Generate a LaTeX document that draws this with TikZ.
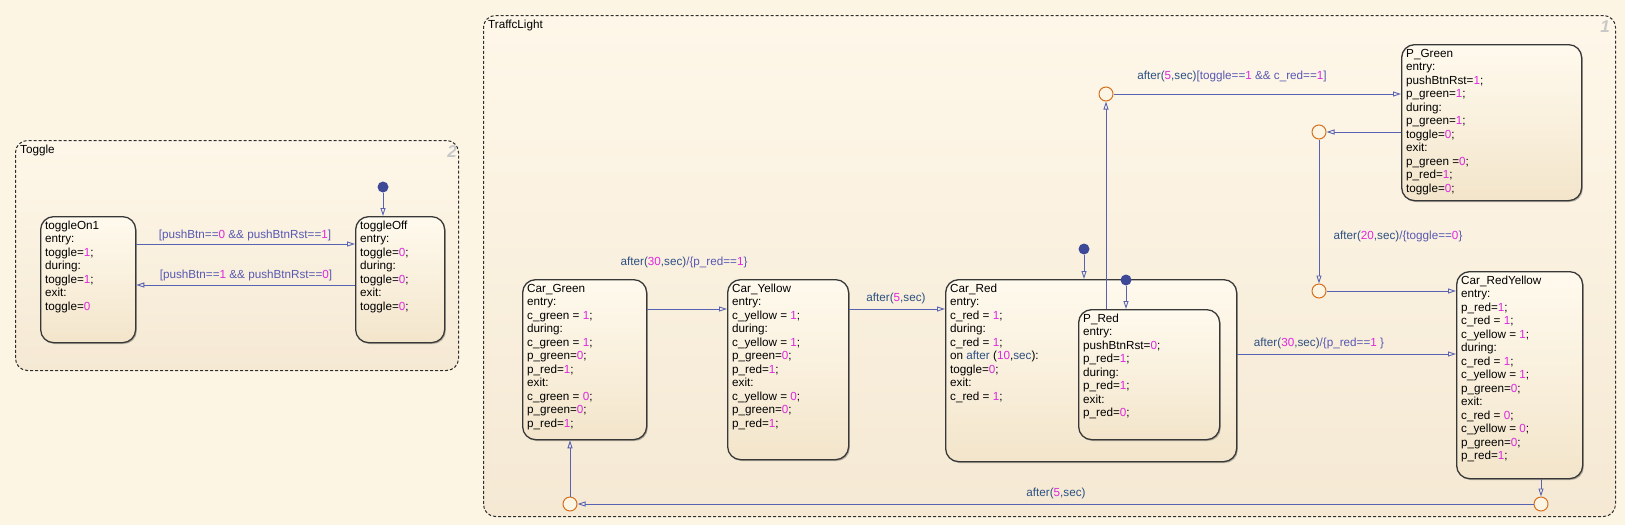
\documentclass[tikz,border=0pt]{standalone}
\usepackage{fontspec}
\setmainfont{Liberation Sans}
\usetikzlibrary{arrows.meta,shadows}
\definecolor{bgc}{RGB}{253,245,228}
\definecolor{charttop}{RGB}{254,247,233}
\definecolor{chartbot}{RGB}{245,233,212}
\definecolor{sttop}{RGB}{255,250,238}
\definecolor{stbot}{RGB}{243,229,203}
\definecolor{trc}{RGB}{88,98,178}
\definecolor{kwc}{RGB}{45,80,130}
\definecolor{gc}{RGB}{88,88,178}
\definecolor{numc}{RGB}{222,40,222}
\definecolor{junc}{RGB}{212,112,30}
\definecolor{dotc}{RGB}{62,74,152}
\definecolor{chnum}{RGB}{200,200,200}
\newcommand\Nm[1]{\textcolor{numc}{#1}}
\newcommand\Kw[1]{\textcolor{kwc}{#1}}
\newcommand\Gd[1]{\textcolor{gc}{#1}}
\tikzset{
  every node/.style={font=\fontsize{11.7}{13.5}\selectfont},
  chart/.style={draw=black!82, line width=1pt, dash pattern=on 3pt off 2pt, rounded corners=12pt,
    top color=charttop, bottom color=chartbot, anchor=north west, inner sep=0pt},
  stbox/.style={draw=black!78, line width=1.3pt, rounded corners=13pt, top color=sttop, bottom color=stbot,
    anchor=north west, inner sep=0pt,
    drop shadow={shadow xshift=1.2pt, shadow yshift=-1.4pt, fill=black, opacity=0.25}},
  sttext/.style={anchor=north west, align=left, inner sep=0pt, text=black},
  junction/.style={circle, draw=junc, line width=1pt, fill=bgc, minimum size=14pt, inner sep=0pt},
  defdot/.style={circle, fill=dotc, minimum size=11pt, inner sep=0pt},
  tr/.style={draw=trc, line width=0.9pt, -{Triangle[open, length=8pt, width=5pt]}},
  trlabel/.style={inner sep=0pt, text=gc},
  chlabel/.style={anchor=base west, inner sep=0pt},
  chnumber/.style={inner sep=0pt, text=chnum, font=\fontsize{17}{17}\selectfont\bfseries\itshape}
}
\begin{document}
\begin{tikzpicture}[x=1pt,y=-1pt]
\useasboundingbox (0,0) rectangle (1625,525);
\fill[bgc] (0,0) rectangle (1625,525);

% charts
\node[chart, minimum width=443pt, minimum height=230pt] (toggle) at (15,140) {};
\node[chlabel] (togglelbl) at (20,153) {Toggle};
\node[chnumber] (togglenum) at (452,152) {2};

\node[chart, minimum width=1132pt, minimum height=501pt] (traffic) at (483,15) {};
\node[chlabel] (trafficlbl) at (488,28) {TraffcLight};
\node[chnumber] (trafficnum) at (1605,27) {1};

% Toggle states
\node[stbox, minimum width=95pt, minimum height=126pt] (ton) at (40,216) {};
\node[sttext] (tontxt) at ([xshift=5pt,yshift=-3.5pt]ton.north west) {\strut toggleOn1\\entry:\\toggle=\Nm{1};\\during:\\toggle=\Nm{1};\\exit:\\toggle=\Nm{0}};

\node[stbox, minimum width=89pt, minimum height=126pt] (toff) at (355,216) {};
\node[sttext] (tofftxt) at ([xshift=5pt,yshift=-3.5pt]toff.north west) {\strut toggleOff\\entry:\\toggle=\Nm{0};\\during:\\toggle=\Nm{0};\\exit:\\toggle=\Nm{0};};

\node[defdot] (d1) at (383,187) {};

% Traffic states
\node[stbox, minimum width=124pt, minimum height=160pt] (cg) at (522,279) {};
\node[sttext] (cgtxt) at ([xshift=5pt,yshift=-3.5pt]cg.north west) {\strut Car\_Green\\entry:\\c\_green = \Nm{1};\\during:\\c\_green = \Nm{1};\\p\_green=\Nm{0};\\p\_red=\Nm{1};\\exit:\\c\_green = \Nm{0};\\p\_green=\Nm{0};\\p\_red=\Nm{1};};

\node[stbox, minimum width=121pt, minimum height=180pt] (cy) at (727,279) {};
\node[sttext] (cytxt) at ([xshift=5pt,yshift=-3.5pt]cy.north west) {\strut Car\_Yellow\\entry:\\c\_yellow = \Nm{1};\\during:\\c\_yellow = \Nm{1};\\p\_green=\Nm{0};\\p\_red=\Nm{1};\\exit:\\c\_yellow = \Nm{0};\\p\_green=\Nm{0};\\p\_red=\Nm{1};};

\node[stbox, minimum width=291pt, minimum height=182pt] (cr) at (945,279) {};
\node[sttext] (crtxt) at ([xshift=5pt,yshift=-3.5pt]cr.north west) {\strut Car\_Red\\entry:\\c\_red = \Nm{1};\\during:\\c\_red = \Nm{1};\\on \Kw{after} (\Nm{10},\Kw{sec}):\\toggle=\Nm{0};\\exit:\\c\_red = \Nm{1};};

\node[stbox, minimum width=141pt, minimum height=130pt] (pr) at (1078,309) {};
\node[sttext] (prtxt) at ([xshift=5pt,yshift=-3.5pt]pr.north west) {\strut P\_Red\\entry:\\pushBtnRst=\Nm{0};\\p\_red=\Nm{1};\\during:\\p\_red=\Nm{1};\\exit:\\p\_red=\Nm{0};};

\node[stbox, minimum width=180pt, minimum height=156pt] (pg) at (1401,44) {};
\node[sttext] (pgtxt) at ([xshift=5pt,yshift=-3.5pt]pg.north west) {\strut P\_Green\\entry:\\pushBtnRst=\Nm{1};\\p\_green=\Nm{1};\\during:\\p\_green=\Nm{1};\\toggle=\Nm{0};\\exit:\\p\_green =\Nm{0};\\p\_red=\Nm{1};\\toggle=\Nm{0};};

\node[stbox, minimum width=126pt, minimum height=207pt] (cry) at (1456,271) {};
\node[sttext] (crytxt) at ([xshift=5pt,yshift=-3.5pt]cry.north west) {\strut Car\_RedYellow\\entry:\\p\_red=\Nm{1};\\c\_red = \Nm{1};\\c\_yellow = \Nm{1};\\during:\\c\_red = \Nm{1};\\c\_yellow = \Nm{1};\\p\_green=\Nm{0};\\exit:\\c\_red = \Nm{0};\\c\_yellow = \Nm{0};\\p\_green=\Nm{0};\\p\_red=\Nm{1};};

% default transitions dots
\node[defdot] (d2) at (1084,249) {};
\node[defdot] (d3) at (1126,280) {};

% junctions
\node[junction] (j1) at (1106,94) {};
\node[junction] (j2) at (1319,132) {};
\node[junction] (j3) at (1319,291) {};
\node[junction] (j4) at (1541,504) {};
\node[junction] (j5) at (570,504) {};

% Toggle transitions
\draw[tr] (d1) -- (d1 |- toff.north);
\draw[tr] (ton.east |- 0,244) -- (toff.west |- 0,244);
\draw[tr] (toff.west |- 0,285) -- (ton.east |- 0,285);
\node[trlabel] (l1) at (245,235) {[pushBtn==\Nm{0} \&\& pushBtnRst==\Nm{1}]};
\node[trlabel] (l2) at (246,275) {[pushBtn==\Nm{1} \&\& pushBtnRst==\Nm{0}]};

% Traffic transitions
\draw[tr] (d2) -- (d2 |- cr.north);
\draw[tr] (d3) -- (d3 |- pr.north);
\draw[tr] (cg.east |- 0,309) -- (cy.west |- 0,309);
\node[trlabel] (l3) at (684,262) {\Kw{after(}\Nm{30}\Kw{,sec)}/\{p\_red==\Nm{1}\}};
\draw[tr] (cy.east |- 0,309) -- (cr.west |- 0,309);
\node[trlabel] (l4) at (896,298) {\Kw{after(}\Nm{5}\Kw{,sec)}};
\draw[tr] (pr.north -| j1) -- (j1);
\draw[tr] (j1) -- (pg.west |- j1);
\node[trlabel] (l5) at (1232,76) {\Kw{after(}\Nm{5}\Kw{,sec)}[toggle==\Nm{1} \&\& c\_red==\Nm{1}]};
\draw[tr] (pg.west |- j2) -- (j2);
\draw[tr] (j2) -- (j3);
\node[trlabel] (l6) at (1398,236) {\Kw{after(}\Nm{20}\Kw{,sec)}/\{toggle==\Nm{0}\}};
\draw[tr] (j3) -- (cry.west |- j3);
\draw[tr] (cr.east |- 0,354) -- (cry.west |- 0,354);
\node[trlabel] (l7) at (1319,343) {\Kw{after(}\Nm{30}\Kw{,sec)}/\{p\_red==\Nm{1} \}};
\draw[tr] (cry.south -| j4) -- (j4);
\draw[tr] (j4) -- (j5);
\node[trlabel] (l8) at (1056,493) {\Kw{after(}\Nm{5}\Kw{,sec)}};
\draw[tr] (j5) -- (j5 |- cg.south);
\end{tikzpicture}
\end{document}
